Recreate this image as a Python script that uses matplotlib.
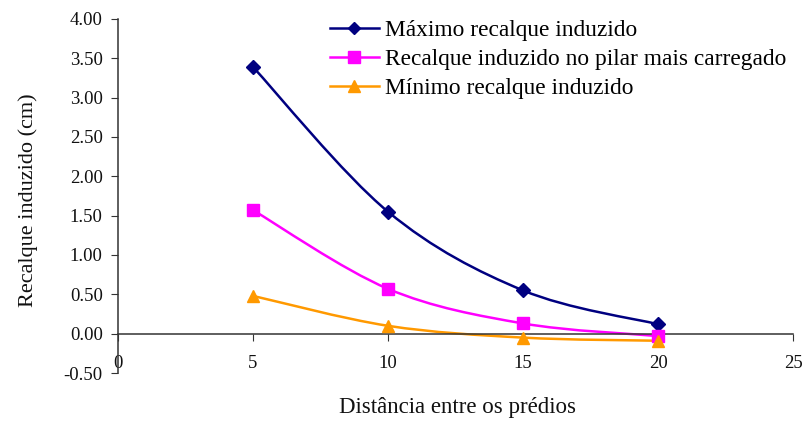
import matplotlib
matplotlib.use("Agg")
import matplotlib.pyplot as plt
from matplotlib.path import Path
from matplotlib.patches import PathPatch

distancia = [5, 10, 15, 20]
maximo = [3.39, 1.55, 0.55, 0.12]
pilar = [1.57, 0.57, 0.13, -0.03]
minimo = [0.48, 0.10, -0.05, -0.09]

nomes = ["Máximo recalque induzido",
         "Recalque induzido no pilar mais carregado",
         "Mínimo recalque induzido"]
cores = ["#000080", "#FF00FF", "#FF9900"]
marcadores = ["D", "s", "^"]
msizes = [7, 9, 9]

xticks = [0, 5, 10, 15, 20, 25]
yticks = [-0.5, 0, 0.5, 1.0, 1.5, 2.0, 2.5, 3.0, 3.5, 4.0]

plt.rcParams['font.family'] = ['Liberation Serif', 'DejaVu Serif']

fig = plt.figure(figsize=(8.07, 4.21), dpi=100)
ax = fig.add_axes([0.1462, 0.114, 0.8365, 0.8409])


def smooth_path(xs, ys):
    pts = list(zip(xs, ys))
    n = len(pts)
    verts = [pts[0]]
    codes = [Path.MOVETO]
    for i in range(n - 1):
        p0 = pts[i - 1] if i > 0 else pts[i]
        p1 = pts[i]
        p2 = pts[i + 1]
        p3 = pts[i + 2] if i + 2 < n else pts[i + 1]
        c1 = (p1[0] + (p2[0] - p0[0]) / 6, p1[1] + (p2[1] - p0[1]) / 6)
        c2 = (p2[0] - (p3[0] - p1[0]) / 6, p2[1] - (p3[1] - p1[1]) / 6)
        verts += [c1, c2, p2]
        codes += [Path.CURVE4] * 3
    return Path(verts, codes)


for ys, nome, cor, mk, ms in zip([maximo, pilar, minimo], nomes, cores, marcadores, msizes):
    ax.add_patch(PathPatch(smooth_path(distancia, ys), facecolor='none',
                           edgecolor=cor, lw=1.8, zorder=2))
    ax.plot(distancia, ys, linestyle='none', marker=mk, markersize=ms, color=cor, zorder=3)
    ax.plot([], [], color=cor, lw=1.8, marker=mk, markersize=ms - 1, label=nome)

ax.set_xlim(0, 25)
ax.set_ylim(-0.5, 4.0)
ax.set_xticks(xticks)
ax.set_xticklabels([str(v) for v in xticks])
ax.set_yticks(yticks)
ax.set_yticklabels([f"{v:.2f}" for v in yticks])

ax.spines['top'].set_visible(False)
ax.spines['right'].set_visible(False)
ax.spines['bottom'].set_position(('data', 0))
for s in ('left', 'bottom'):
    ax.spines[s].set_color('#333333')
    ax.spines[s].set_linewidth(1.1)

ax.tick_params(axis='x', direction='out', length=5, pad=10, labelsize=13.5, colors='#333333', labelcolor='#111111')
ax.tick_params(axis='y', direction='out', length=5, pad=6, labelsize=13.5, colors='#333333', labelcolor='#111111')

fig.text(0.0347, 0.525, "Recalque induzido (cm)", ha='center', va='center', rotation=90,
         fontsize=16, color='#111111')
fig.text(0.5675, 0.031, "Distância entre os prédios", ha='center', va='center', fontsize=16.5, color='#111111')

leg = ax.legend(loc='upper left', bbox_to_anchor=(0.30, 1.025), frameon=False, fontsize=16.8,
                handlelength=2.1, handletextpad=0.26, labelspacing=0.33, borderaxespad=0)

fig.savefig("out.png", dpi=100)
